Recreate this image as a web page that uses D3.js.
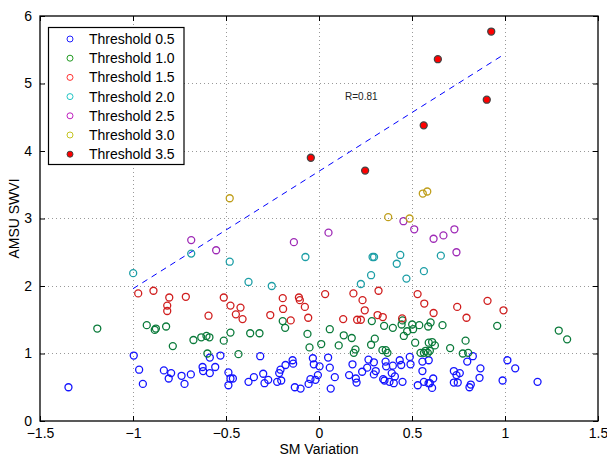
<!DOCTYPE html>
<html><head><meta charset="utf-8">
<script src="https://cdn.jsdelivr.net/npm/d3@7"></script>
<style>body{margin:0;background:#fff}svg{display:block}</style>
</head><body>
<svg id="c" width="607" height="457"></svg>
<script>
// ---- data ----
const seriesNames = ["Threshold 0.5","Threshold 1.0","Threshold 1.5","Threshold 2.0","Threshold 2.5","Threshold 3.0","Threshold 3.5"];
const xTicks = [-1.5,-1,-0.5,0,0.5,1,1.5];
const xTickLabels = ["\u22121.5","\u22121","\u22120.5","0","0.5","1","1.5"];
const yTicks = [0,1,2,3,4,5,6];
const yTickLabels = ["0","1","2","3","4","5","6"];
const s05 = [[-1.347,0.50],[-0.996,0.97],[-0.967,0.76],[-0.947,0.55],[-0.834,0.75],[-0.808,0.63],[-0.795,0.71],[-0.739,0.67],[-0.723,0.55],[-0.689,0.69],[-0.626,0.80],[-0.623,0.74],[-0.587,0.71],[-0.587,0.94],[-0.558,0.80],[-0.53,0.97],[-0.487,0.72],[-0.487,0.53],[-0.476,0.63],[-0.463,0.63],[-0.379,0.58],[-0.35,0.65],[-0.316,0.96],[-0.3,0.70],[-0.293,0.56],[-0.273,0.61],[-0.225,0.58],[-0.214,0.71],[-0.207,0.76],[-0.203,0.60],[-0.18,0.83],[-0.142,0.90],[-0.139,0.85],[-0.13,0.50],[-0.099,0.48],[-0.056,0.55],[-0.046,0.62],[-0.033,0.93],[-0.028,0.84],[-0.019,0.61],[-0.006,0.68],[0.003,0.81],[0.049,0.94],[0.058,0.79],[0.063,0.48],[0.085,0.65],[0.162,0.68],[0.18,0.84],[0.198,0.63],[0.202,0.57],[0.232,0.73],[0.259,0.79],[0.266,0.91],[0.295,0.87],[0.295,0.69],[0.305,0.74],[0.345,0.62],[0.352,0.60],[0.358,0.88],[0.361,0.81],[0.379,0.58],[0.391,0.71],[0.397,0.82],[0.402,0.56],[0.408,0.66],[0.434,0.90],[0.442,0.83],[0.449,0.58],[0.488,0.95],[0.492,0.84],[0.531,0.53],[0.556,0.88],[0.556,0.74],[0.564,0.58],[0.589,0.56],[0.59,0.90],[0.596,0.56],[0.608,0.49],[0.614,0.63],[0.725,0.74],[0.739,0.68],[0.757,0.71],[0.725,0.57],[0.746,0.57],[0.797,0.88],[0.827,0.96],[0.868,0.78],[0.863,0.64],[0.809,0.50],[0.816,0.54],[0.987,0.60],[1.013,0.90],[1.055,0.78],[1.175,0.58]];
const s10 = [[-1.192,1.37],[-0.926,1.42],[-0.883,1.35],[-0.877,1.37],[-0.822,1.40],[-0.786,1.11],[-0.675,1.20],[-0.633,1.24],[-0.605,1.26],[-0.589,1.24],[-0.512,1.19],[-0.476,1.31],[-0.60,1.00],[-0.433,0.99],[-0.37,1.30],[-0.32,1.30],[-0.195,1.48],[-0.182,1.38],[-0.062,1.29],[-0.051,1.09],[0.058,1.36],[0.012,1.14],[0.106,1.12],[0.133,1.27],[0.176,1.23],[0.196,1.06],[0.187,1.01],[0.284,1.48],[0.30,1.22],[0.28,1.13],[0.35,1.41],[0.397,1.38],[0.444,1.43],[0.449,1.49],[0.456,1.26],[0.474,1.33],[0.501,1.43],[0.506,1.36],[0.539,1.42],[0.587,1.40],[0.60,1.46],[0.517,1.16],[0.59,1.16],[0.341,1.05],[0.359,1.05],[0.368,1.01],[0.546,1.01],[0.564,1.01],[0.573,1.04],[0.585,1.01],[0.596,1.04],[0.608,1.17],[0.623,1.12],[0.664,1.42],[0.705,1.08],[0.788,1.19],[0.773,1.00],[0.802,1.01],[0.958,1.41],[1.289,1.34],[1.334,1.21]];
const s15 = [[-0.972,1.89],[-0.89,1.93],[-0.805,1.83],[-0.816,1.71],[-0.816,1.63],[-0.716,1.84],[-0.594,1.56],[-0.512,1.83],[-0.476,1.71],[-0.422,1.68],[-0.447,1.58],[-0.411,1.51],[-0.262,1.57],[-0.195,1.82],[-0.193,1.66],[-0.152,1.49],[-0.108,1.83],[-0.103,1.79],[-0.076,1.69],[-0.058,1.53],[0.033,1.88],[0.13,1.51],[0.185,1.89],[0.234,1.79],[0.246,1.64],[0.205,1.50],[0.225,1.50],[0.315,1.57],[0.343,1.54],[0.32,1.93],[0.447,1.52],[0.53,1.88],[0.566,1.74],[0.616,1.60],[0.743,1.69],[0.793,1.53],[0.906,1.78],[0.992,1.64]];
const s20 = [[-0.999,2.19],[-0.687,2.48],[-0.48,2.36],[-0.379,2.06],[-0.254,2.00],[-0.073,2.43],[0.288,2.43],[0.296,2.43],[0.225,2.03],[0.28,2.16],[0.418,2.33],[0.437,2.46],[0.47,2.11],[0.564,2.22],[0.655,2.45]];
const s25 = [[-0.687,2.68],[-0.553,2.53],[-0.135,2.65],[0.051,2.79],[0.454,2.96],[0.512,2.84],[0.616,2.70],[0.669,2.75],[0.728,2.84],[0.739,2.50]];
const s30 = [[-0.48,3.30],[0.372,3.02],[0.487,3.00],[0.558,3.37],[0.582,3.40]];
const s35 = [[-0.044,3.90],[0.248,3.71],[0.563,4.38],[0.902,4.76],[0.639,5.36],[0.926,5.77]];
const fitLine = [[-1,1.96],[1,5.44]];
const annotation = {text:"R=0.81", x:0.14, y:4.76};

// ---- styles ----
const plotColors = ["#1414ff","#0a7a3a","#d01e1e","#1c9ea6","#9e2ab6","#bf9e1a","#ff0000"];
const legendColors = ["#2020ff","#209a20","#ff3030","#20c4c4","#c020c0","#c4c420","#ff0000"];
const allSeries = [s05,s10,s15,s20,s25,s30,s35];

const svg = d3.select("#c");
const L=40,R=598,T=16,B=421;
const x = d3.scaleLinear().domain([-1.5,1.5]).range([L,R]);
const y = d3.scaleLinear().domain([0,6]).range([B,T]);
const font = "'Liberation Sans', Arial, Helvetica, sans-serif";

// grid
const g = svg.append("g");
g.selectAll(".gx").data(xTicks.slice(1,-1)).enter().append("line")
 .attr("x1",d=>x(d)).attr("x2",d=>x(d)).attr("y1",T).attr("y2",B)
 .attr("stroke","#999").attr("stroke-width",1).attr("stroke-dasharray","1,3").attr("shape-rendering","crispEdges");
g.selectAll(".gy").data(yTicks.slice(1,-1)).enter().append("line")
 .attr("y1",d=>y(d)).attr("y2",d=>y(d)).attr("x1",L).attr("x2",R)
 .attr("stroke","#999").attr("stroke-width",1).attr("stroke-dasharray","1,3").attr("shape-rendering","crispEdges");

// axes
const ax = svg.append("g").attr("transform",`translate(0,${B})`)
 .call(d3.axisBottom(x).tickValues(xTicks).tickFormat((d,i)=>xTickLabels[i]).tickSizeInner(-5).tickSizeOuter(0).tickPadding(7));
const ay = svg.append("g").attr("transform",`translate(${L},0)`)
 .call(d3.axisLeft(y).tickValues(yTicks).tickFormat((d,i)=>yTickLabels[i]).tickSizeInner(-5).tickSizeOuter(0).tickPadding(8));
const axT = svg.append("g").attr("transform",`translate(0,${T})`)
 .call(d3.axisTop(x).tickValues(xTicks).tickFormat("").tickSizeInner(-5).tickSizeOuter(0));
const ayR = svg.append("g").attr("transform",`translate(${R},0)`)
 .call(d3.axisRight(y).tickValues(yTicks).tickFormat("").tickSizeInner(-5).tickSizeOuter(0));
[ax,ay,axT,ayR].forEach(a=>{
  a.select(".domain").remove();
  a.selectAll("line").attr("stroke","#000");
  a.selectAll("text").attr("font-family",font).attr("font-size",14).attr("fill","#000");
});
svg.append("rect").attr("x",L).attr("y",T).attr("width",R-L).attr("height",B-T)
 .attr("fill","none").attr("stroke","#000").attr("stroke-width",1.3);

// fit line
svg.append("line").attr("x1",x(fitLine[0][0])).attr("y1",y(fitLine[0][1]))
 .attr("x2",x(fitLine[1][0])).attr("y2",y(fitLine[1][1]))
 .attr("stroke","#0000ff").attr("stroke-width",1).attr("stroke-dasharray","6,5");

// points
allSeries.forEach((s,i)=>{
  const filled = i===6;
  svg.append("g").selectAll("circle").data(s).enter().append("circle")
   .attr("cx",d=>x(d[0])).attr("cy",d=>y(d[1])).attr("r",3.5)
   .attr("fill",filled?plotColors[i]:"none")
   .attr("stroke",filled?"#444":plotColors[i]).attr("stroke-width",1.3);
});

// annotation
svg.append("text").attr("x",x(annotation.x)).attr("y",y(annotation.y))
 .attr("font-family",font).attr("font-size",10).attr("fill","#222").text(annotation.text);

// axis labels
svg.append("text").attr("x",(L+R)/2).attr("y",454).attr("text-anchor","middle")
 .attr("font-family",font).attr("font-size",14).text("SM Variation");
svg.append("text").attr("transform",`translate(19,${(T+B)/2}) rotate(-90)`).attr("text-anchor","middle")
 .attr("font-family",font).attr("font-size",14).text("AMSU SWVI");

// legend
const lg = svg.append("g");
lg.append("rect").attr("x",48.5).attr("y",27.5).attr("width",135.5).attr("height",137)
 .attr("fill","#fff").attr("stroke","#000").attr("stroke-width",1.2);
seriesNames.forEach((n,i)=>{
  const yy = 39 + i*19.2;
  lg.append("circle").attr("cx",70).attr("cy",yy).attr("r",3)
   .attr("fill",i===6?legendColors[i]:"none").attr("stroke",i===6?"#444":legendColors[i]).attr("stroke-width",1);
  lg.append("text").attr("x",89).attr("y",yy+5).attr("font-family",font).attr("font-size",14).text(n);
});
</script>
</body></html>
